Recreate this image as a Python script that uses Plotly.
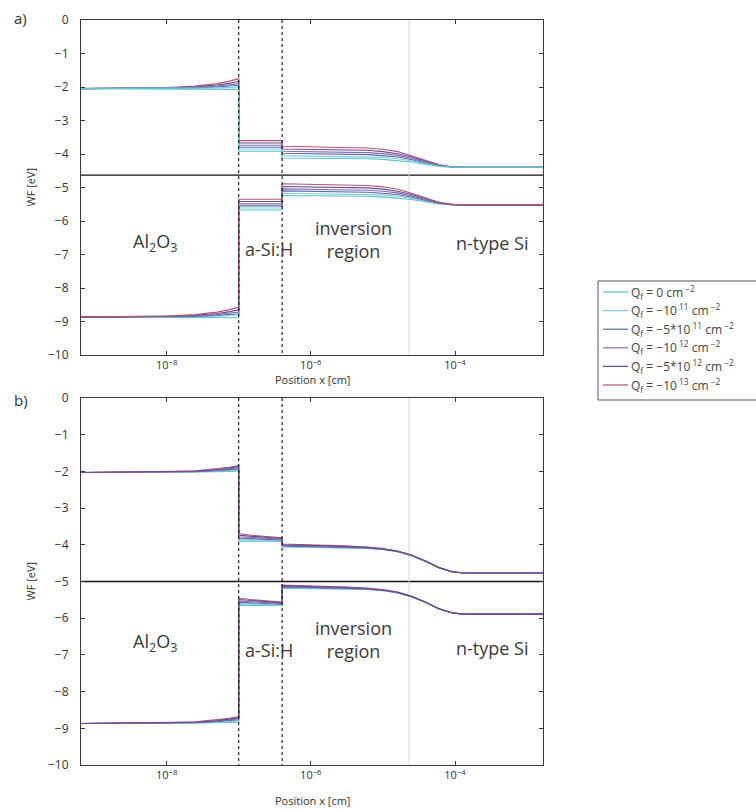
import math
import plotly.graph_objects as go

# ---------------------------------------------------------------------------
# Band diagram data: Al2O3 / a-Si:H / c-Si stack, energies in eV vs. position
# ---------------------------------------------------------------------------
LEGEND_NAMES = [
    "Q<sub>f</sub> = 0 cm<sup> −2</sup>",
    "Q<sub>f</sub> = −10<sup> 11</sup> cm<sup> −2</sup>",
    "Q<sub>f</sub> = −5*10<sup> 11</sup> cm<sup> −2</sup>",
    "Q<sub>f</sub> = −10<sup> 12</sup> cm<sup> −2</sup>",
    "Q<sub>f</sub> = −5*10<sup> 12</sup> cm<sup> −2</sup>",
    "Q<sub>f</sub> = −10<sup> 13</sup> cm<sup> −2</sup>",
]
COLORS = ["#5fc2c6", "#82cbe8", "#5d6c9c", "#7b70b8", "#6a4b93", "#b1566f"]

# position grids (cm)
X_OX = [6.5e-10, 1e-8, 2.5e-8, 5e-8, 7.5e-8, 1e-7]
X_ASI_A = [1e-7, 4e-7]
X_ASI_B = [1e-7, 1.5e-7, 2.5e-7, 4e-7]
X_CSI = [4e-7, 1e-6, 3e-6, 6e-6, 1e-5, 1.6e-5, 2.5e-5, 4e-5, 6e-5, 9e-5, 1.3e-4, 1.66e-3]

# interfaces, edge of the depletion zone, Fermi levels
X_INTERFACES = [1e-7, 4e-7]
X_MARK = [2.3e-5]
EF_A = [-4.63]
EF_B = [-5.0]

# ---- panel a) -------------------------------------------------------------
A_OX_CB = [
    [-2.05, -2.05, -2.055, -2.06, -2.065, -2.07],
    [-2.05, -2.045, -2.04, -2.025, -2.01, -2.0],
    [-2.05, -2.04, -2.025, -2.0, -1.975, -1.95],
    [-2.05, -2.035, -2.01, -1.975, -1.94, -1.9],
    [-2.05, -2.03, -1.995, -1.94, -1.885, -1.83],
    [-2.05, -2.02, -1.975, -1.9, -1.825, -1.75],
]
A_OX_VB = [
    [-8.87, -8.87, -8.875, -8.88, -8.885, -8.89],
    [-8.87, -8.865, -8.86, -8.845, -8.83, -8.82],
    [-8.87, -8.86, -8.845, -8.82, -8.795, -8.77],
    [-8.87, -8.855, -8.83, -8.795, -8.76, -8.72],
    [-8.87, -8.85, -8.815, -8.76, -8.705, -8.65],
    [-8.87, -8.84, -8.795, -8.72, -8.645, -8.57],
]
A_ASI_CB = [
    [-3.92, -3.92], [-3.86, -3.86], [-3.8, -3.8],
    [-3.74, -3.74], [-3.67, -3.67], [-3.6, -3.6],
]
A_ASI_VB = [
    [-5.67, -5.67], [-5.61, -5.61], [-5.55, -5.55],
    [-5.49, -5.49], [-5.42, -5.42], [-5.35, -5.35],
]
A_CSI_CB = [
    [-4.12, -4.12, -4.13, -4.14, -4.16, -4.19, -4.24, -4.31, -4.37, -4.395, -4.4, -4.4],
    [-4.05, -4.06, -4.07, -4.08, -4.1, -4.14, -4.2, -4.29, -4.36, -4.39, -4.4, -4.4],
    [-3.98, -3.99, -4.0, -4.02, -4.05, -4.09, -4.17, -4.27, -4.35, -4.39, -4.4, -4.4],
    [-3.92, -3.93, -3.94, -3.96, -3.99, -4.04, -4.13, -4.25, -4.34, -4.39, -4.4, -4.4],
    [-3.85, -3.86, -3.87, -3.89, -3.93, -3.99, -4.09, -4.22, -4.33, -4.385, -4.4, -4.4],
    [-3.77, -3.78, -3.8, -3.82, -3.86, -3.93, -4.05, -4.2, -4.32, -4.38, -4.4, -4.4],
]
A_CSI_VB = [
    [-5.24, -5.24, -5.25, -5.26, -5.28, -5.31, -5.36, -5.43, -5.49, -5.515, -5.52, -5.52],
    [-5.17, -5.18, -5.19, -5.2, -5.22, -5.26, -5.32, -5.41, -5.48, -5.51, -5.52, -5.52],
    [-5.1, -5.11, -5.12, -5.14, -5.17, -5.21, -5.29, -5.39, -5.47, -5.51, -5.52, -5.52],
    [-5.04, -5.05, -5.06, -5.08, -5.11, -5.16, -5.25, -5.37, -5.46, -5.51, -5.52, -5.52],
    [-4.97, -4.98, -4.99, -5.01, -5.05, -5.11, -5.21, -5.34, -5.45, -5.505, -5.52, -5.52],
    [-4.89, -4.9, -4.92, -4.94, -4.98, -5.05, -5.17, -5.32, -5.44, -5.5, -5.52, -5.52],
]

# ---- panel b) -------------------------------------------------------------
B_OX_CB = [
    [-2.03, -2.026, -2.02, -2.01, -2.0, -1.99],
    [-2.03, -2.023, -2.013, -1.995, -1.978, -1.96],
    [-2.03, -2.02, -2.005, -1.98, -1.955, -1.93],
    [-2.03, -2.017, -1.998, -1.965, -1.933, -1.9],
    [-2.03, -2.014, -1.99, -1.95, -1.91, -1.87],
    [-2.03, -2.011, -1.983, -1.935, -1.888, -1.84],
]
B_OX_VB = [
    [-8.87, -8.866, -8.86, -8.85, -8.84, -8.83],
    [-8.87, -8.863, -8.853, -8.835, -8.818, -8.8],
    [-8.87, -8.86, -8.845, -8.82, -8.795, -8.77],
    [-8.87, -8.857, -8.838, -8.805, -8.773, -8.74],
    [-8.87, -8.854, -8.83, -8.79, -8.75, -8.71],
    [-8.87, -8.851, -8.823, -8.775, -8.728, -8.68],
]
B_ASI_CB = [
    [-3.9, -3.9, -3.9, -3.9],
    [-3.86, -3.87, -3.88, -3.89],
    [-3.82, -3.83, -3.85, -3.87],
    [-3.78, -3.8, -3.82, -3.85],
    [-3.74, -3.77, -3.8, -3.83],
    [-3.7, -3.74, -3.78, -3.81],
]
B_ASI_VB = [
    [-5.65, -5.65, -5.65, -5.65],
    [-5.61, -5.62, -5.63, -5.64],
    [-5.57, -5.58, -5.6, -5.62],
    [-5.53, -5.55, -5.57, -5.6],
    [-5.49, -5.52, -5.55, -5.58],
    [-5.45, -5.49, -5.53, -5.56],
]
B_CSI_CB = [
    [-4.06, -4.07, -4.08, -4.1, -4.13, -4.19, -4.3, -4.46, -4.63, -4.735, -4.77, -4.77],
    [-4.045, -4.058, -4.07, -4.093, -4.125, -4.187, -4.297, -4.458, -4.628, -4.734, -4.77, -4.77],
    [-4.03, -4.045, -4.06, -4.085, -4.12, -4.183, -4.293, -4.457, -4.627, -4.733, -4.77, -4.77],
    [-4.015, -4.03, -4.05, -4.08, -4.115, -4.18, -4.29, -4.455, -4.625, -4.732, -4.77, -4.77],
    [-4.0, -4.015, -4.04, -4.07, -4.11, -4.175, -4.285, -4.453, -4.622, -4.731, -4.77, -4.77],
    [-3.98, -4.0, -4.03, -4.06, -4.1, -4.17, -4.28, -4.45, -4.62, -4.73, -4.77, -4.77],
]
B_CSI_VB = [
    [-5.18, -5.19, -5.2, -5.22, -5.25, -5.31, -5.42, -5.58, -5.75, -5.855, -5.89, -5.89],
    [-5.165, -5.178, -5.19, -5.213, -5.245, -5.307, -5.417, -5.578, -5.748, -5.854, -5.89, -5.89],
    [-5.15, -5.165, -5.18, -5.205, -5.24, -5.303, -5.413, -5.577, -5.747, -5.853, -5.89, -5.89],
    [-5.135, -5.15, -5.17, -5.2, -5.235, -5.3, -5.41, -5.575, -5.745, -5.852, -5.89, -5.89],
    [-5.12, -5.135, -5.16, -5.19, -5.23, -5.295, -5.405, -5.573, -5.742, -5.851, -5.89, -5.89],
    [-5.1, -5.12, -5.15, -5.18, -5.22, -5.29, -5.4, -5.57, -5.74, -5.85, -5.89, -5.89],
]

# drawing order of the six series (last one ends up on top)
ORDER_A_CB = [5, 4, 3, 2, 1, 0]
ORDER_A_VB = [0, 1, 2, 3, 4, 5]
ORDER_B = [0, 1, 2, 3, 5, 4]

# axis ticks
X_TICKS = [1e-8, 1e-6, 1e-4]
X_TICKTEXT = ["10<sup>−8</sup>", "10<sup>−6</sup>", "10<sup>−4</sup>"]
Y_TICKS = [0, -1, -2, -3, -4, -5, -6, -7, -8, -9, -10]
Y_TICKTEXT = ["0", "−1", "−2", "−3", "−4", "−5", "−6", "−7", "−8", "−9", "−10"]

# region labels: text, x in cm, y in eV for each panel
REGION_TEXT = ["Al<sub>2</sub>O<sub>3</sub>", "a-Si:H", "inversion<br>region", "n-type Si"]
REGION_X = [7.0e-9, 2.6e-7, 3.9e-6, 3.3e-4]
REGION_Y_A = [-6.65, -6.85, -6.54, -6.65]
REGION_Y_B = [-6.67, -6.86, -6.58, -6.8]

# ---------------------------------------------------------------------------
W, H = 756, 810
FONT = "Open Sans"
X_LO, X_HI = X_OX[0], X_CSI[-1]

# pixel layout of the two axes boxes and the legend box
LEFT, RIGHT = 81, 543
A_TOP, A_BOT = 20, 355
B_TOP, B_BOT = 398, 765
LEG_L, LEG_R, LEG_T, LEG_B = 598, 790, 281, 400
LEG_ROW0, LEG_STEP = 292, 18.6

fig = go.Figure()


def line_trace(xs, ys, color, width, xa, ya, dash=None):
    return go.Scatter(x=xs, y=ys, mode="lines",
                      line=dict(color=color, width=width, dash=dash),
                      xaxis=xa, yaxis=ya, showlegend=False, hoverinfo="skip")


def add_panel(xa, ya, ox_cb, ox_vb, asi_x, asi_cb, asi_vb, csi_cb, csi_vb, ef,
              order_cb, order_vb):
    fig.add_trace(line_trace([X_LO, X_HI], ef * 2, "#111111", 1.3, xa, ya))
    fig.add_trace(line_trace(X_MARK * 2, [0, -10], "#d9d9d9", 1, xa, ya))
    xs = X_OX + asi_x + X_CSI
    for i in order_cb:
        fig.add_trace(line_trace(xs, ox_cb[i] + asi_cb[i] + csi_cb[i], COLORS[i], 1.1, xa, ya))
    for i in order_vb:
        fig.add_trace(line_trace(xs, ox_vb[i] + asi_vb[i] + csi_vb[i], COLORS[i], 1.1, xa, ya))
    for xv in X_INTERFACES:
        fig.add_trace(line_trace([xv, xv], [0, -10], "#111111", 1.1, xa, ya, dash="3px,3px"))


add_panel("x", "y", A_OX_CB, A_OX_VB, X_ASI_A, A_ASI_CB, A_ASI_VB, A_CSI_CB, A_CSI_VB,
          EF_A, ORDER_A_CB, ORDER_A_VB)
add_panel("x2", "y2", B_OX_CB, B_OX_VB, X_ASI_B, B_ASI_CB, B_ASI_VB, B_CSI_CB, B_CSI_VB,
          EF_B, ORDER_B, ORDER_B)

xrange_log = [math.log10(X_LO), math.log10(X_HI)]

axis_common = dict(showline=True, linecolor="#3a3a3a", linewidth=1, mirror="ticks",
                   ticks="inside", ticklen=4, tickcolor="#3a3a3a", showgrid=False,
                   zeroline=False, tickfont=dict(family=FONT, size=11, color="#333333"))

xa = dict(axis_common, type="log", range=xrange_log, tickvals=X_TICKS, ticktext=X_TICKTEXT,
          domain=[LEFT / W, RIGHT / W])
ya = dict(axis_common, range=[-10, 0], tickvals=Y_TICKS, ticktext=Y_TICKTEXT,
          ticklabelstandoff=9, tickfont=dict(family=FONT, size=12, color="#333333"))


def px(x):
    return x / W


def py(y):
    return 1 - y / H


shapes = [
    dict(type="rect", xref="paper", yref="paper", x0=px(LEG_L), x1=px(LEG_R),
         y0=py(LEG_B), y1=py(LEG_T), line=dict(color="#555555", width=1),
         fillcolor="white", layer="above"),
]
ann = []
for i, (name, col) in enumerate(zip(LEGEND_NAMES, COLORS)):
    yy = LEG_ROW0 + i * LEG_STEP
    shapes.append(dict(type="line", xref="paper", yref="paper",
                       x0=px(LEG_L + 5), x1=px(LEG_L + 30), y0=py(yy), y1=py(yy),
                       line=dict(color=col, width=1.2), layer="above"))
    ann.append(dict(text=name, x=px(LEG_L + 31), y=py(yy), xref="paper", yref="paper",
                    xanchor="left", yanchor="middle", showarrow=False,
                    font=dict(family=FONT, size=12, color="#444444")))

for lab, yp in (("a)", A_TOP - 2), ("b)", B_TOP + 2)):
    ann.append(dict(text=lab, x=px(12), y=py(yp), xref="paper", yref="paper",
                    xanchor="left", yanchor="middle", showarrow=False,
                    font=dict(family=FONT, size=15, color="#333333")))
for ymid in ((A_TOP + A_BOT) / 2, (B_TOP + B_BOT) / 2):
    ann.append(dict(text="WF [eV]", x=px(30), y=py(ymid), xref="paper", yref="paper",
                    textangle=-90, showarrow=False, xanchor="center", yanchor="middle",
                    font=dict(family=FONT, size=11, color="#333333")))
for yp in (A_BOT + 24, B_BOT + 35):
    ann.append(dict(text="Position x [cm]", x=px((LEFT + RIGHT) / 2), y=py(yp),
                    xref="paper", yref="paper", showarrow=False,
                    xanchor="center", yanchor="middle",
                    font=dict(family=FONT, size=11, color="#333333")))
for xr, yr, ys in (("x", "y", REGION_Y_A), ("x2", "y2", REGION_Y_B)):
    for t, xv, yv in zip(REGION_TEXT, REGION_X, ys):
        ann.append(dict(text=t, x=math.log10(xv), y=yv, xref=xr, yref=yr, showarrow=False,
                        xanchor="center", yanchor="middle",
                        font=dict(family=FONT, size=18, color="#3a3a3a")))

fig.update_layout(
    width=W, height=H,
    margin=dict(l=0, r=0, t=0, b=0, autoexpand=False),
    paper_bgcolor="white", plot_bgcolor="white",
    font=dict(family=FONT, color="#333333"),
    xaxis=dict(xa, anchor="y"),
    yaxis=dict(ya, domain=[py(A_BOT), py(A_TOP)], anchor="x"),
    xaxis2=dict(xa, anchor="y2"),
    yaxis2=dict(ya, domain=[py(B_BOT), py(B_TOP)], anchor="x2"),
    showlegend=False,
    shapes=shapes,
    annotations=ann,
)

fig.write_html("out.html")
